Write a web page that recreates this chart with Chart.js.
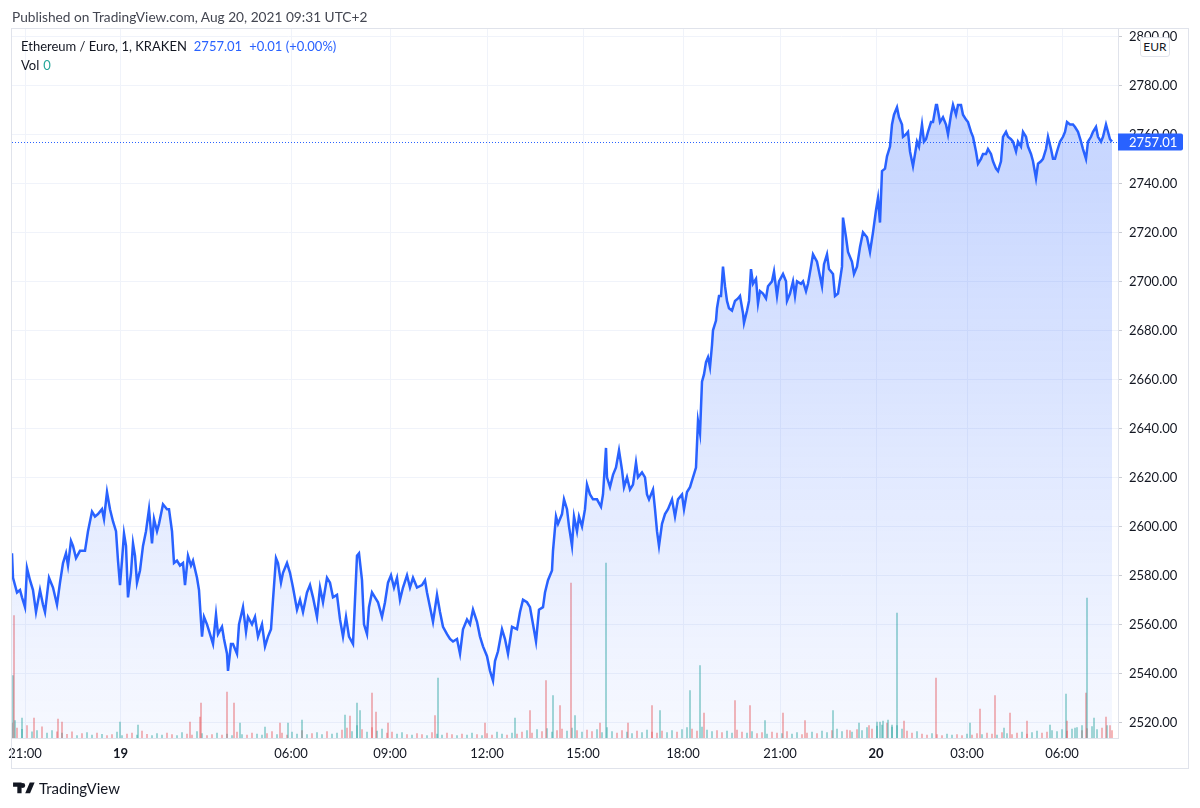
<!DOCTYPE html>
<html>
<head>
<meta charset="utf-8">
<title>Ethereum / Euro, 1, KRAKEN</title>
<script src="https://cdn.jsdelivr.net/npm/chart.js@4.4.1/dist/chart.umd.min.js"></script>
<style>
  body { margin: 0; background: #fff; font-family: Lato, "Open Sans", sans-serif; }
  #wrap { position: relative; width: 1200px; height: 808px; }
  #published { position: absolute; left: 12px; top: 8px; font-size: 13.7px; color: #434651; white-space: nowrap; }
  #legend { position: absolute; left: 21px; top: 37px; font-size: 13px; color: #131722; line-height: 19px; white-space: nowrap; }
  #legend .val { color: #2962ff; margin-left: 7px; }
  #legend .vol { color: #26a69a; margin-left: 4px; }
  #currency { position: absolute; left: 1140px; top: 37px; width: 28px; height: 18px; border: 1px solid #e0e3eb;
              border-radius: 3px; background: #fff; font-size: 12px; color: #131722; text-align: center; line-height: 18px; }
  #footer { position: absolute; left: 13px; top: 779px; font-size: 15px; color: #131722; display: flex; align-items: center; }
  #footer svg { margin-right: 4px; }
</style>
</head>
<body>
<div id="wrap">
  <canvas id="chart"></canvas>
  <div id="published">Published on TradingView.com, Aug 20, 2021 09:31 UTC+2</div>
  <div id="legend">
    <div>Ethereum / Euro, 1, KRAKEN<span class="val" id="lastVal"></span><span class="val" id="lastChg"></span></div>
    <div>Vol<span class="vol" id="lastVol"></span></div>
  </div>
  <div id="currency">EUR</div>
  <div id="footer">
    <svg width="22" height="17" viewBox="0 0 36 28"><path fill="#131722" d="M14 22H7V11H0V4h14v18zM28 22h-8l7.5-18h8L28 22zM20 9a4 4 0 1 1-8 0 4 4 0 0 1 8 0z"/></svg>
    <span>TradingView</span>
  </div>
</div>
<script>
// bar position on the time axis (trading bars, gaps collapsed) and close price
const barIndex = [
  0, 1, 5, 8, 10, 13, 15, 18, 21, 24,
  28, 31, 33, 37, 41, 45, 48, 51, 54, 56,
  59, 61, 64, 68, 73, 76, 80, 83, 86, 90,
  92, 95, 98, 101, 104, 106, 108, 110, 112, 114,
  116, 119, 121, 123, 125, 128, 131, 134, 137, 140,
  142, 145, 147, 151, 155, 157, 160, 162, 165, 168,
  171, 173, 176, 179, 181, 185, 187, 190, 192, 195,
  198, 201, 204, 206, 210, 212, 215, 216, 219, 221,
  225, 227, 231, 234, 236, 240, 243, 246, 250, 253,
  256, 259, 261, 264, 266, 269, 271, 275, 278, 281,
  285, 288, 291, 295, 298, 301, 305, 308, 311, 315,
  318, 321, 325, 328, 331, 334, 337, 341, 343, 345,
  347, 350, 352, 355, 357, 360, 363, 366, 370, 373,
  376, 379, 382, 385, 388, 391, 395, 398, 401, 405,
  410, 413, 415, 419, 421, 425, 428, 431, 435, 438,
  441, 445, 448, 451, 455, 458, 461, 465, 468, 471,
  475, 478, 481, 483, 486, 490, 493, 496, 500, 505,
  508, 511, 515, 518, 521, 524, 527, 531, 533, 536,
  540, 541, 544, 546, 550, 552, 555, 557, 560, 562,
  565, 567, 570, 573, 575, 578, 581, 585, 589, 591,
  594, 595, 598, 601, 604, 607, 610, 612, 615, 618,
  621, 624, 626, 630, 633, 635, 637, 641, 643, 645,
  647, 650, 653, 656, 660, 663, 666, 670, 672, 675,
  678, 681, 684, 686, 688, 690, 692, 694, 696, 698,
  700, 701, 704, 705, 707, 709, 711, 713, 715, 717,
  720, 723, 726, 728, 731, 732, 735, 737, 739, 741,
  744, 746, 748, 751, 754, 756, 760, 762, 765, 767,
  771, 774, 775, 778, 781, 783, 785, 789, 791, 794,
  796, 799, 801, 805, 807, 810, 812, 815, 817, 821,
  823, 826, 830, 831, 834, 836, 840, 842, 845, 848,
  851, 855, 858, 861, 864, 866, 868, 870, 873, 875,
  878, 880, 882, 885, 887, 890, 891, 894, 896, 898,
  901, 903, 905, 907, 910, 912, 914, 916, 919, 921,
  924, 925, 928, 931, 934, 936, 939, 941, 944, 946,
  949, 951, 954, 956, 959, 961, 964, 966, 969, 971,
  974, 976, 979, 981, 984, 986, 989, 991, 994, 996,
  999, 1001, 1004, 1006, 1009, 1011, 1014, 1016, 1019, 1021,
  1024, 1026, 1029, 1031, 1034, 1036, 1039, 1041, 1043, 1045,
  1048, 1051, 1053, 1055, 1058, 1061, 1063, 1066, 1069, 1071,
  1074, 1076, 1079, 1081, 1084, 1086, 1089, 1091, 1094, 1096,
  1098, 1100
];
const closePrice = [
  2589, 2579, 2573, 2574, 2571, 2567, 2583, 2578, 2574, 2565,
  2574, 2568, 2565, 2579, 2575, 2568, 2577, 2585, 2589, 2584,
  2594, 2592, 2587, 2590, 2590, 2598, 2606, 2604, 2605, 2607,
  2603, 2614, 2607, 2602, 2598, 2586, 2576, 2586, 2597, 2592,
  2571, 2581, 2593, 2588, 2577, 2582, 2592, 2598, 2607, 2593,
  2603, 2598, 2601, 2609, 2607, 2607, 2598, 2585, 2586, 2584,
  2585, 2576, 2588, 2584, 2586, 2579, 2574, 2555, 2563, 2560,
  2556, 2552, 2564, 2556, 2559, 2554, 2548, 2541, 2552, 2552,
  2548, 2560, 2567, 2557, 2563, 2560, 2563, 2555, 2560, 2551,
  2555, 2558, 2570, 2587, 2585, 2577, 2581, 2585, 2581, 2575,
  2566, 2570, 2565, 2573, 2576, 2571, 2563, 2575, 2569, 2579,
  2577, 2571, 2572, 2562, 2555, 2563, 2555, 2552, 2570, 2588,
  2589, 2578, 2560, 2556, 2567, 2573, 2571, 2569, 2563, 2569,
  2577, 2580, 2575, 2579, 2570, 2575, 2580, 2575, 2579, 2575,
  2576, 2578, 2573, 2565, 2561, 2572, 2565, 2559, 2556, 2554,
  2553, 2554, 2548, 2558, 2562, 2560, 2566, 2561, 2555, 2551,
  2547, 2541, 2537, 2545, 2549, 2558, 2554, 2548, 2559, 2558,
  2565, 2570, 2569, 2567, 2560, 2553, 2566, 2567, 2573, 2578,
  2582, 2590, 2604, 2601, 2605, 2611, 2607, 2600, 2592, 2604,
  2598, 2604, 2600, 2607, 2617, 2613, 2611, 2611, 2608, 2613,
  2632, 2620, 2616, 2621, 2624, 2631, 2623, 2616, 2620, 2615,
  2617, 2626, 2620, 2622, 2620, 2613, 2611, 2615, 2607, 2598,
  2592, 2601, 2605, 2607, 2611, 2604, 2611, 2613, 2607, 2614,
  2616, 2620, 2624, 2643, 2638, 2659, 2662, 2667, 2669, 2665,
  2674, 2680, 2684, 2689, 2694, 2694, 2706, 2698, 2692, 2689,
  2688, 2692, 2693, 2694, 2687, 2683, 2688, 2692, 2705, 2699,
  2701, 2691, 2696, 2695, 2693, 2698, 2700, 2704, 2694, 2700,
  2703, 2700, 2692, 2695, 2700, 2694, 2700, 2699, 2700, 2696,
  2699, 2706, 2711, 2708, 2704, 2698, 2707, 2711, 2705, 2703,
  2694, 2695, 2706, 2726, 2718, 2712, 2708, 2703, 2706, 2714,
  2720, 2718, 2712, 2720, 2729, 2734, 2724, 2745, 2746, 2751,
  2755, 2764, 2768, 2771, 2767, 2764, 2759, 2760, 2761, 2753,
  2747, 2752, 2757, 2755, 2764, 2757, 2758, 2761, 2765, 2765,
  2772, 2772, 2765, 2767, 2764, 2760, 2768, 2772, 2768, 2772,
  2772, 2768, 2766, 2765, 2761, 2759, 2753, 2748, 2750, 2752,
  2752, 2754, 2752, 2749, 2746, 2745, 2749, 2759, 2761, 2759,
  2758, 2757, 2753, 2757, 2755, 2761, 2759, 2755, 2752, 2749,
  2742, 2748, 2749, 2750, 2754, 2759, 2754, 2750, 2750, 2753,
  2757, 2759, 2761, 2765, 2764, 2764, 2763, 2761, 2757, 2754,
  2750, 2757, 2759, 2761, 2763, 2759, 2757, 2759, 2764, 2761,
  2758, 2757.01
];

// background volume, one bar every 5 slots (ETH), with up/down direction
const baseVolume = [
  6, 4, 3.5, 5, 2.5, 3, 4.5, 2, 3, 2.5,
  2, 1.5, 2.5, 1, 1.8, 2.2, 1.2, 2, 1.5, 1,
  1.4, 2.4, 1, 1.6, 2, 1.2, 2.8, 1.5, 1, 1.8,
  1.2, 2, 1.4, 1, 2.2, 1.6, 1.2, 2.6, 1.8, 1,
  1.4, 2, 1.2, 1.6, 1, 2.4, 1.4, 1.2, 2, 1.6,
  1.2, 1.8, 2.6, 1.4, 2, 1.2, 2.4, 1.6, 3, 1.4,
  1.8, 2.2, 1.4, 2.6, 1.6, 2, 3.2, 4, 2.6, 5,
  3.4, 2.4, 4.2, 2.8, 3.6, 2, 2.4, 1.6, 2.2, 1.4,
  1.2, 1.8, 1.4, 1, 2.2, 1.6, 1.2, 2, 1.4, 1,
  1.6, 1.2, 2, 1.4, 1, 1.8, 1.2, 2.4, 1.6, 1.2,
  2, 1.6, 2.4, 3, 2, 3.4, 2.6, 3.8, 2.4, 3,
  3.6, 2.8, 4, 3, 2.4, 3.2, 2.6, 3.4, 2.2, 4.2,
  2.6, 2, 3, 2.4, 1.8, 2.8, 2.2, 3.2, 2.4, 2,
  2.8, 2.2, 3, 2.4, 3.4, 4.2, 3.6, 2.8, 4.4, 3.2,
  2.6, 3, 2.2, 2.8, 2, 3.2, 2.4, 2, 2.6, 1.8,
  2.2, 1.6, 2.4, 2, 1.8, 2.6, 1.6, 2.2, 1.4, 2,
  2.4, 1.8, 2.8, 2.2, 3, 3.6, 2.6, 3.2, 2.4, 3.4,
  3, 4.2, 3.6, 4.8, 5.2, 6, 4.4, 5, 3.6, 2.8,
  2, 2.6, 1.6, 1.2, 1.8, 1.4, 1, 1.6, 1.2, 1.4,
  1, 1.6, 1.2, 1.8, 1.4, 2, 1.6, 1.2, 2.2, 1.8,
  1.4, 2, 2.4, 1.6, 2.2, 2.8, 2, 2.4, 3, 2.6,
  3.4, 2.8, 3.6, 4.2, 3, 3.8, 4.6, 3.4, 4, 5,
  3
];
const baseDirection = (
  'dduduuduud' + 'udduduudud' + 'duuddudduu' + 'udduudduud' + 'duduududdu' +
  'uddudduudu' + 'duuduudduu' + 'duduudduud' + 'udduduuddu' + 'duududduud' +
  'uddududuud' + 'duududduuu' + 'udduuduudd' + 'duuduudduu' + 'udduudduud' +
  'dudduduudd' + 'uduuduudud' + 'uuduuduuud' + 'duddudduud' + 'dudduddudu' +
  'dduduudduu' + 'uduudduudu' + 'd'
).split('');

// volume spikes
const spikeIndex = [1, 2, 3, 10, 22, 46, 50, 108, 126, 178, 188, 189, 215, 222, 228, 253, 268, 276, 290,
  333, 338, 345, 348, 360, 364, 376, 423, 426, 473, 503, 518, 534, 541, 548, 559, 563, 588, 594, 616,
  640, 648, 678, 688, 692, 723, 738, 753, 771, 793, 821, 838, 847, 857, 865, 868, 871, 876, 880, 885,
  892, 924, 958, 968, 983, 992, 998, 1015, 1038, 1054, 1055, 1063, 1070, 1074, 1075, 1082, 1094, 1098];
const spikeVolume = [25, 49, 7, 8, 8, 7.6, 6.4, 6.4, 5.2, 6.4, 8.4, 14, 18.4, 14, 6, 4.4, 6, 6, 7.2,
  9.2, 8.8, 14, 11, 18, 10.4, 6, 9, 24, 6, 8, 11, 23, 17, 13, 62, 9, 6, 70, 6,
  13, 11, 19, 29, 10, 15, 13, 7, 10, 7, 11, 3, 6, 5, 6.4, 6.4, 6.8, 7.2, 5.2, 50,
  6.8, 24, 6, 11.6, 17, 4, 10, 6.8, 5.2, 17.6, 6.8, 4, 5, 18, 56, 8, 8.4, 5];
const spikeDirection = ['u', 'd', 'u', 'u', 'd', 'd', 'd', 'u', 'u', 'd', 'd', 'd', 'd', 'd', 'u', 'u', 'd', 'u', 'u',
  'u', 'd', 'u', 'u', 'd', 'd', 'd', 'd', 'u', 'd', 'u', 'd', 'd', 'u', 'd', 'd', 'u', 'd', 'u', 'd',
  'd', 'u', 'u', 'u', 'd', 'd', 'd', 'u', 'd', 'd', 'u', 'd', 'u', 'd', 'u', 'u', 'u', 'u', 'u', 'u',
  'd', 'd', 'u', 'd', 'd', 'u', 'd', 'd', 'u', 'u', 'd', 'u', 'u', 'd', 'u', 'u', 'd', 'd'];

// time axis ticks
const timeTickIndex = [13, 108.6, 279, 378, 475, 571, 671, 768, 864, 955, 1050];
const timeTickLabels = ['21:00', '19', '06:00', '09:00', '12:00', '15:00', '18:00', '21:00', '20', '03:00', '06:00'];
const dayLabels = ['19', '20'];
const priceTicks = [2520, 2540, 2560, 2580, 2600, 2620, 2640, 2660, 2680, 2700, 2720, 2740, 2760, 2780, 2800];

const lastPrice = closePrice[closePrice.length - 1];
const lastChange = 0.01;
const lastVolume = 0;

const FONT = 'Lato, "Open Sans", sans-serif';
const UP = 'rgba(38, 166, 154, 0.5)';
const DOWN = 'rgba(239, 83, 80, 0.5)';

document.getElementById('lastVal').textContent = lastPrice.toFixed(2);
document.getElementById('lastChg').textContent = '+' + lastChange.toFixed(2) + ' (+' + (lastChange / lastPrice * 100).toFixed(2) + '%)';
document.getElementById('lastVol').textContent = lastVolume;

const priceData = barIndex.map((x, i) => ({ x: x, y: closePrice[i] }));
const volumeData = [];
const volumeColors = [];
baseVolume.forEach((v, i) => {
  volumeData.push({ x: i * 5, y: v });
  volumeColors.push(baseDirection[i] === 'u' ? UP : DOWN);
});
spikeIndex.forEach((x, i) => {
  volumeData.push({ x: x, y: spikeVolume[i] });
  volumeColors.push(spikeDirection[i] === 'u' ? UP : DOWN);
});

// dotted last-price line, price label and outer frame
const lastPricePlugin = {
  id: 'lastPrice',
  afterDatasetsDraw(chart) {
    const ctx = chart.ctx, a = chart.chartArea;
    const y = Math.round(chart.scales.y.getPixelForValue(lastPrice)) + 0.5;
    ctx.save();
    ctx.strokeStyle = '#2962ff';
    ctx.lineWidth = 1;
    ctx.setLineDash([1, 2]);
    ctx.beginPath();
    ctx.moveTo(a.left, y);
    ctx.lineTo(a.right, y);
    ctx.stroke();
    ctx.restore();
  },
  afterDraw(chart) {
    const ctx = chart.ctx, ys = chart.scales.y;
    const y = Math.round(ys.getPixelForValue(lastPrice));
    ctx.save();
    ctx.fillStyle = '#2962ff';
    ctx.beginPath();
    ctx.roundRect(ys.left, y - 8.5, 65, 17, [0, 2, 2, 0]);
    ctx.fill();
    ctx.fillStyle = '#ffffff';
    ctx.font = '13px ' + FONT;
    ctx.textBaseline = 'middle';
    ctx.fillText(lastPrice.toFixed(2), ys.left + 11, y + 0.5);
    ctx.strokeStyle = '#e0e3eb';
    ctx.lineWidth = 1;
    ctx.strokeRect(11.5, 28.5, 1177, 740);
    ctx.restore();
  }
};

new Chart(document.getElementById('chart').getContext('2d'), {
  type: 'line',
  data: {
    datasets: [{
      type: 'line',
      label: 'ETHEUR',
      data: priceData,
      yAxisID: 'y',
      borderColor: '#2962ff',
      borderWidth: 2.5,
      pointRadius: 0,
      tension: 0,
      fill: 'start',
      order: 0,
      backgroundColor(context) {
        const a = context.chart.chartArea;
        if (!a) return 'rgba(41, 98, 255, 0.15)';
        const g = context.chart.ctx.createLinearGradient(0, a.top, 0, a.bottom);
        g.addColorStop(0, 'rgba(41, 98, 255, 0.30)');
        g.addColorStop(1, 'rgba(41, 98, 255, 0.04)');
        return g;
      }
    }, {
      type: 'bar',
      label: 'Vol',
      data: volumeData,
      yAxisID: 'yv',
      backgroundColor: volumeColors,
      barThickness: 1,
      grouped: false,
      order: 1
    }]
  },
  options: {
    responsive: true,
    maintainAspectRatio: false,
    animation: false,
    layout: { padding: { left: 12, right: 12, top: 28, bottom: 40 } },
    plugins: { legend: { display: false }, tooltip: { enabled: false } },
    scales: {
      x: {
        type: 'linear',
        offset: false,
        min: 0,
        max: 1106,
        afterBuildTicks(scale) { scale.ticks = timeTickIndex.map(v => ({ value: v })); },
        afterFit(scale) { scale.height = 30; },
        grid: { color: '#f0f3fa', drawTicks: false, offset: false },
        border: { color: '#e0e3eb' },
        ticks: {
          autoSkip: false,
          maxRotation: 0,
          padding: 8,
          color: '#131722',
          font: (c) => ({ size: 13, family: FONT, weight: dayLabels.includes(timeTickLabels[c.index]) ? 'bold' : 'normal' }),
          callback: (value, index) => timeTickLabels[index]
        }
      },
      y: {
        position: 'right',
        min: 2513.6,
        max: 2803.4,
        afterBuildTicks(scale) { scale.ticks = priceTicks.map(v => ({ value: v })); },
        afterFit(scale) { scale.width = 70; },
        grid: { color: '#f0f3fa', tickColor: '#c9cbd1', tickLength: 4 },
        border: { color: '#e0e3eb' },
        ticks: {
          padding: 7,
          color: '#131722',
          font: { size: 13, family: FONT },
          callback: (value) => Number(value).toFixed(2)
        }
      },
      yv: {
        display: false,
        min: 0,
        max: 284
      }
    }
  },
  plugins: [lastPricePlugin]
});
</script>
</body>
</html>
